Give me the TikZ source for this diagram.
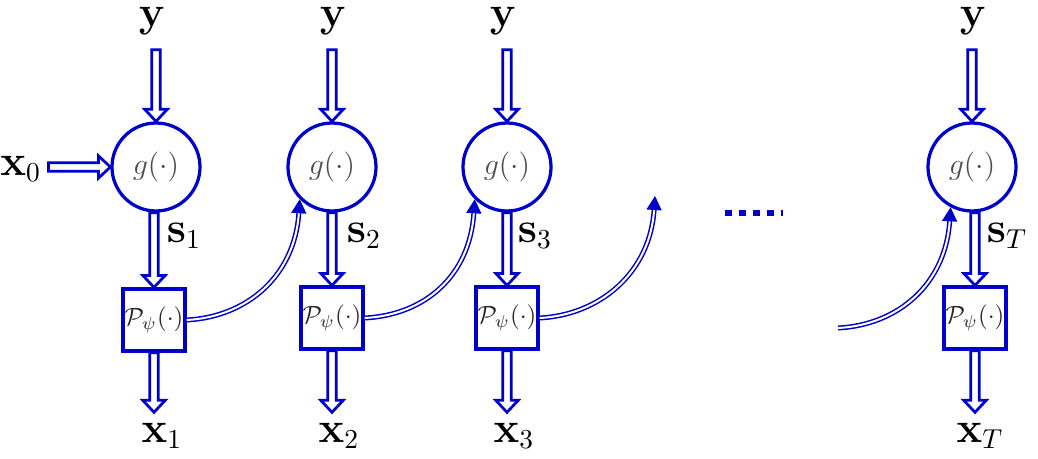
\documentclass[tikz,border=0pt]{standalone}
\usetikzlibrary{calc,arrows.meta}
\definecolor{dblue}{RGB}{0,0,204}
\begin{document}
\begin{tikzpicture}[x=0.4pt,y=-0.4pt,
 gnode/.style={circle,draw=dblue,line width=1.3pt,minimum size=35.2pt,inner sep=0pt,text=black!70,font=\fontsize{12}{14}\selectfont},
 pnode/.style={rectangle,draw=dblue,line width=1.3pt,minimum size=24.8pt,inner sep=0pt,text=black!85,font=\fontsize{10}{12}\selectfont},
 lab/.style={font=\fontsize{16}{19}\selectfont,inner sep=0pt},
 ylab/.style={lab,anchor=base},
 xlab/.style={lab,anchor=base},
 slab/.style={lab,anchor=base},
 blkv/.style={draw=dblue,line width=1.1pt,line join=miter,
   to path={let \p1=(\tikztostart),\p2=(\tikztotarget) in
     (\x1-1.7pt,\y1) -- (\x1-1.7pt,\y2+4.8pt) -- (\x1-4.5pt,\y2+4.8pt) -- (\x1,\y2)
     -- (\x1+4.5pt,\y2+4.8pt) -- (\x1+1.7pt,\y2+4.8pt) -- (\x1+1.7pt,\y1) -- cycle}},
 blkh/.style={draw=dblue,line width=1.1pt,line join=miter,
   to path={let \p1=(\tikztostart),\p2=(\tikztotarget) in
     (\x1,\y1+1.7pt) -- (\x2-4.8pt,\y1+1.7pt) -- (\x2-4.8pt,\y1+4.5pt) -- (\x2,\y1)
     -- (\x2-4.8pt,\y1-4.5pt) -- (\x2-4.8pt,\y1-1.7pt) -- (\x1,\y1-1.7pt) -- cycle}},
 dbl/.style={draw=dblue,double=white,line width=0.6pt,double distance=0.8pt,
   -{Triangle[length=5.6pt,width=6pt]}},
 dots/.style={draw=dblue,line width=2.6pt,dash pattern=on 2.8pt off 2.8pt}
]
\useasboundingbox (0,0) rectangle (1038,459);

% circles and boxes
\node[gnode] (g1) at (156,167) {$g(\cdot)$};
\node[gnode] (g2) at (332,167) {$g(\cdot)$};
\node[gnode] (g3) at (507,167) {$g(\cdot)$};
\node[gnode] (gT) at (972,167) {$g(\cdot)$};
\node[pnode] (p1) at (154,320) {$\mathcal{P}_\psi(\cdot)$};
\node[pnode] (p2) at (332,318) {$\mathcal{P}_\psi(\cdot)$};
\node[pnode] (p3) at (507,318) {$\mathcal{P}_\psi(\cdot)$};
\node[pnode] (pT) at (975,318) {$\mathcal{P}_\psi(\cdot)$};

% labels
\node[ylab] (y1) at (152,27) {$\mathbf{y}$};
\node[ylab] (y2) at (333,27) {$\mathbf{y}$};
\node[ylab] (y3) at (503,27) {$\mathbf{y}$};
\node[ylab] (yT) at (973,27) {$\mathbf{y}$};
\node[lab,anchor=base west] (x0) at (0,175) {$\mathbf{x}_0$};
\node[slab] (s1) at (184,242) {$\mathbf{s}_1$};
\node[slab] (s2) at (364,242) {$\mathbf{s}_2$};
\node[slab] (s3) at (535,242) {$\mathbf{s}_3$};
\node[slab] (sT) at (1007,242) {$\mathbf{s}_T$};
\node[xlab] (x1) at (162,442) {$\mathbf{x}_1$};
\node[xlab] (x2) at (339,442) {$\mathbf{x}_2$};
\node[xlab] (x3) at (514,442) {$\mathbf{x}_3$};
\node[xlab] (xT) at (980,442) {$\mathbf{x}_T$};

% block arrows
\coordinate (x0e) at ([xshift=2.8pt]x0.east);
\draw[blkh] (x0e |- g1.west) to (g1.west);
\foreach \c in {1,2,3,T}{
  \coordinate (ya\c) at ([yshift=-5.5pt]y\c.south);
  \coordinate (xa\c) at ([yshift=4pt]x\c.north);
  \draw[blkv] (ya\c -| g\c.north) to (g\c.north);
  \draw[blkv] (g\c.south -| p\c.north) to (p\c.north);
  \draw[blkv] (p\c.south) to (p\c.south |- xa\c);
}

% recurrent connections
\coordinate (c3) at (655,196);
\coordinate (cT) at (838,328);
\draw[dbl] (p1.east) .. controls +(60,-3) and +(-5,77) .. (g2.-135);
\draw[dbl] (p2.east) .. controls +(60,-3) and +(-5,77) .. (g3.-135);
\draw[dbl] (p3.east) .. controls +(60,-3) and +(-5,77) .. (c3);
\draw[dbl] (cT) .. controls +(60,-3) and +(-5,77) .. (gT.-118);

% continuation dots
\draw[dots] (725,213) -- (783,213);
\end{tikzpicture}
\end{document}
